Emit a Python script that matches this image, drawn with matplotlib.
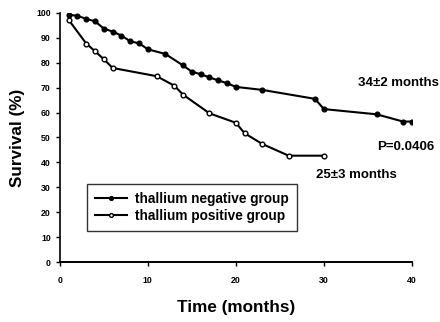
import matplotlib.pyplot as plt

plt.rcParams['font.family'] = ['Liberation Sans', 'DejaVu Sans']
plt.rcParams['font.weight'] = 'bold'

# thallium negative group
neg_t = [1, 2, 3, 4, 5, 6, 7, 8, 9, 10, 12, 14, 15, 16, 17, 18, 19, 20, 23, 29, 30, 36, 39, 40]
neg_s = [99.3, 98.8, 97.6, 96.6, 93.7, 92.5, 90.9, 88.6, 87.8, 85.4, 83.5, 78.9, 76.4, 75.4, 74.1, 72.9, 71.8, 70.3, 69.1, 65.5, 61.4, 59.3, 56.4, 56.4]

# thallium positive group
pos_t = [1, 3, 4, 5, 6, 11, 13, 14, 17, 20, 21, 23, 26, 30]
pos_s = [97.2, 87.7, 84.6, 81.4, 77.9, 74.6, 70.8, 67.2, 59.7, 55.9, 51.7, 47.4, 42.7, 42.7]

fig = plt.figure(figsize=(4.4, 3.22), dpi=100)
ax = fig.add_axes([0.136, 0.186, 0.8, 0.774])

ax.plot(neg_t, neg_s, '-o', color='black', lw=1.5, ms=3.4, mfc='black', mec='black',
        label='thallium negative group')
ax.plot(pos_t, pos_s, '-o', color='black', lw=1.5, ms=3.4, mfc='white', mec='black', mew=1.0,
        label='thallium positive group')

ax.set_xlim(0, 40)
ax.set_ylim(0, 100)
ax.set_xticks([0, 10, 20, 30, 40])
ax.set_yticks(range(0, 101, 10))
ax.tick_params(labelsize=6.3, length=3, width=1)
ax.tick_params(axis='x', pad=7)
ax.spines['top'].set_visible(False)
ax.spines['right'].set_visible(False)
ax.spines['left'].set_linewidth(1.2)
ax.spines['bottom'].set_linewidth(1.4)

ax.set_xlabel('Time (months)', fontsize=12.3, fontweight='bold', labelpad=11)
ax.set_ylabel('Survival (%)', fontsize=12.3, fontweight='bold', labelpad=8)

ax.text(33.9, 72, '34±2 months', fontsize=9.5, fontweight='bold', va='center')
ax.text(36.0, 46, 'P=0.0406', fontsize=9.5, fontweight='bold', va='center')
ax.text(29.1, 35, '25±3 months', fontsize=9.5, fontweight='bold', va='center')

leg = ax.legend(loc='upper left', bbox_to_anchor=(0.058, 0.34), fontsize=9.8,
                frameon=True, fancybox=False, edgecolor='black', handlelength=2.4,
                borderpad=0.55, labelspacing=0.25, handletextpad=0.6, markerscale=0.8)
leg.get_frame().set_linewidth(1.0)

fig.savefig('out.png', dpi=100)
